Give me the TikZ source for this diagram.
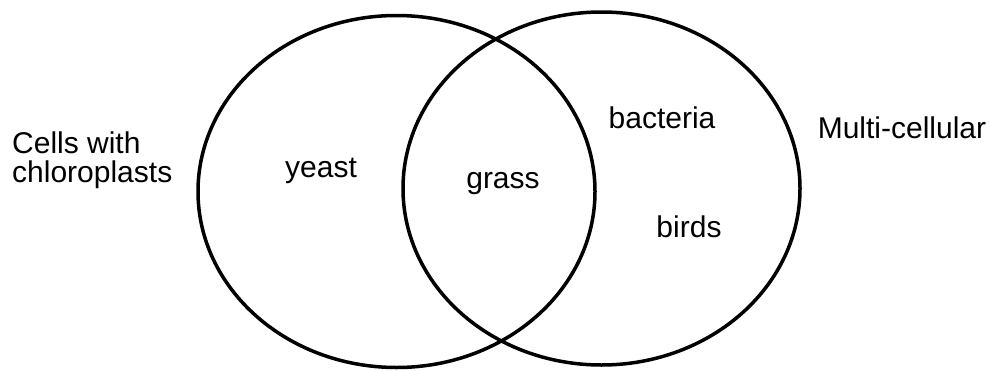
\documentclass[tikz,border=0pt]{standalone}
\usepackage{fontspec}
\setmainfont{Liberation Sans}
\begin{document}
\begin{tikzpicture}[x=1pt,y=-1pt,
  venn/.style={line width=3.5pt, draw=black},
  lbl/.style={inner sep=0pt, anchor=base, font=\fontsize{30}{30}\selectfont}]
\useasboundingbox (0,0) rectangle (990,370);
\draw[venn] (396.5,191.5) ellipse [x radius=198.5, y radius=176];
\draw[venn] (601.5,188.5) ellipse [x radius=198.5, y radius=176.5];
\node[lbl, anchor=base west] (cells) at (12,153) {Cells with};
\node[lbl, anchor=base west] (chloro) at (12,182) {chloroplasts};
\node[lbl] (yeast) at (321,177) {yeast};
\node[lbl] (grass) at (503,188) {grass};
\node[lbl] (bacteria) at (662,128) {bacteria};
\node[lbl] (birds) at (689,237) {birds};
\node[lbl] (multi) at (902,138) {Multi-cellular};
\end{tikzpicture}
\end{document}
